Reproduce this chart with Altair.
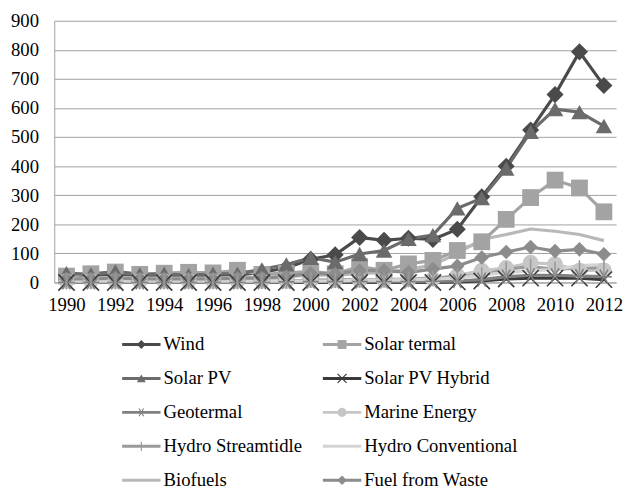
import altair as alt
import pandas as pd

years = list(range(1990, 2013))
series_names = ["Wind", "Solar termal", "Solar PV", "Solar PV Hybrid", "Geotermal",
                "Marine Energy", "Hydro Streamtidle", "Hydro Conventional", "Biofuels",
                "Fuel from Waste"]

wind = [22, 22, 30, 22, 20, 20, 22, 25, 35, 50, 80, 95, 155, 145, 152, 148, 183, 295, 400, 524, 646, 793, 677]
solar_termal = [22, 30, 36, 28, 32, 35, 33, 42, 28, 32, 38, 30, 55, 42, 64, 76, 110, 140, 217, 292, 352, 325, 243]
solar_pv = [32, 28, 38, 28, 30, 25, 30, 30, 45, 62, 85, 70, 98, 110, 150, 163, 255, 290, 392, 518, 596, 586, 538]
solar_pv_hybrid = [0, 0, 0, 0, 0, 0, 0, 0, 0, 0, 0, 0, 0, 0, 0, 0, 2, 5, 12, 15, 15, 15, 10]
geotermal = [0, 0, 0, 0, 0, 0, 0, 0, 0, 2, 3, 3, 3, 3, 3, 4, 5, 10, 20, 25, 25, 22, 20]
marine = [5, 5, 5, 5, 5, 5, 5, 5, 5, 5, 8, 8, 8, 8, 10, 12, 24, 41, 50, 68, 63, 41, 42]
hydro_stream = [3, 3, 3, 3, 3, 3, 3, 3, 5, 5, 8, 8, 10, 10, 12, 15, 20, 25, 45, 55, 45, 50, 50]
hydro_conv = [5, 5, 5, 5, 5, 5, 5, 5, 5, 5, 5, 5, 8, 8, 10, 12, 15, 25, 35, 40, 45, 58, 62]
biofuels = [15, 15, 18, 15, 15, 15, 15, 18, 18, 20, 25, 25, 30, 35, 45, 60, 100, 148, 165, 184, 176, 165, 144]
fuel_waste = [12, 12, 15, 12, 12, 12, 12, 15, 15, 20, 32, 29, 41, 41, 35, 46, 57, 86, 105, 122, 108, 114, 97]

series_values = [wind, solar_termal, solar_pv, solar_pv_hybrid, geotermal, marine,
                 hydro_stream, hydro_conv, biofuels, fuel_waste]

colors = ["#4a4a4a", "#a3a3a3", "#6b6b6b", "#3a3a3a", "#808080",
          "#c6c6c6", "#9a9a9a", "#d4d4d4", "#b8b8b8", "#8c8c8c"]

X_PATH = "M-1,-1L1,1M-1,1L1,-1"
AST_PATH = "M-1,0L1,0M-0.5,-0.87L0.5,0.87M-0.5,0.87L0.5,-0.87"
PLUS_PATH = "M0,-1L0,1"
shapes = ["diamond", "square", "triangle-up", X_PATH, AST_PATH,
          "circle", PLUS_PATH, "circle", "circle", "diamond"]
marker_sizes = [300, 220, 250, 150, 150, 200, 150, 10, 10, 210]
legend_marker_sizes = [80, 90, 100, 90, 90, 80, 90, 10, 10, 70]
marker_kind = ["fill", "fill", "fill", "stroke", "stroke", "fill", "stroke", "none", "none", "fill"]
legend_col = [0, 1, 0, 1, 0, 1, 0, 1, 0, 1]
legend_row = [0, 0, 1, 1, 2, 2, 3, 3, 4, 4]
y_ticks = list(range(0, 901, 100))
x_ticks = list(range(1990, 2013, 2))

rows = []
for i, name in enumerate(series_names):
    for y, v in zip(years, series_values[i]):
        rows.append({"year": y, "series": name, "value": v, "order": i, "kind": marker_kind[i]})
df = pd.DataFrame(rows)

leg = pd.DataFrame({"series": series_names, "col": legend_col, "row": legend_row,
                    "kind": marker_kind, "order": list(range(10))})

FONT = "'Liberation Serif', 'Times New Roman', 'DejaVu Serif', serif"
FS = 19
color_scale = alt.Scale(domain=series_names, range=colors)
shape_scale = alt.Scale(domain=series_names, range=shapes)
col_enc = alt.Color("series:N", scale=color_scale, legend=None)
shape_enc = alt.Shape("series:N", scale=shape_scale, legend=None)
size_enc = alt.Size("series:N", scale=alt.Scale(domain=series_names, range=marker_sizes), legend=None)
lsize_enc = alt.Size("series:N", scale=alt.Scale(domain=series_names, range=legend_marker_sizes), legend=None)

W, H = 571, 266

x_enc = alt.X("year:Q", scale=alt.Scale(domain=[1989.5, 2012.5], nice=False, zero=False),
              axis=alt.Axis(values=x_ticks, format="d", title=None,
                            grid=False, ticks=False, tickSize=0, labelPadding=13,
                            labelFont=FONT, labelFontSize=FS, labelColor="#000",
                            domainColor="#a0a0a0", labelFlush=False, labelOverlap=False))
y_enc = alt.Y("value:Q", scale=alt.Scale(domain=[0, 900], nice=False),
              axis=alt.Axis(values=y_ticks, title=None, ticks=False,
                            tickSize=0, labelPadding=16, labelFont=FONT, labelFontSize=FS,
                            labelColor="#000", gridColor="#a0a0a0", gridWidth=1,
                            domainColor="#a0a0a0", labelOverlap=False, labelFlush=False))

base = alt.Chart(df)
lines = base.mark_line(strokeWidth=3.2).encode(
    x=x_enc, y=y_enc, color=col_enc, detail="series:N", order=alt.Order("year:Q"),
)
filled = base.transform_filter(alt.datum.kind == "fill").mark_point(
    filled=True, opacity=1).encode(x=x_enc, y=y_enc, color=col_enc, shape=shape_enc, size=size_enc)
stroked = base.transform_filter(alt.datum.kind == "stroke").mark_point(
    filled=False, strokeWidth=1.6, opacity=1).encode(
    x=x_enc, y=y_enc, color=col_enc, shape=shape_enc, size=size_enc)
main = alt.layer(lines, filled, stroked).properties(width=W, height=H)

lx = alt.X("col:Q", scale=alt.Scale(domain=[0, 1], range=[69, 273]), axis=None)
ly = alt.Y("row:Q", scale=alt.Scale(domain=[0, 4], range=[31, 169]), axis=None)
lbase = alt.Chart(leg)
lrule = lbase.mark_rule(strokeWidth=3, x2Offset=39).encode(
    x=lx, x2="col:Q", y=ly, color=col_enc)
lfill = lbase.transform_filter(alt.datum.kind == "fill").mark_point(
    filled=True, opacity=1, xOffset=19.5).encode(
    x=lx, y=ly, color=col_enc, shape=shape_enc, size=lsize_enc)
lstroke = lbase.transform_filter(alt.datum.kind == "stroke").mark_point(
    filled=False, strokeWidth=1.2, opacity=1, xOffset=19.5).encode(
    x=lx, y=ly, color=col_enc, shape=shape_enc, size=lsize_enc)
ltext = lbase.mark_text(align="left", baseline="middle", dx=42, font=FONT,
                        fontSize=FS, color="#000").encode(x=lx, y=ly, text="series:N")
legend = alt.layer(lrule, lfill, lstroke, ltext).properties(width=W, height=174)

chart = alt.vconcat(main, legend, spacing=0).resolve_scale(size="independent").properties(
    padding={"left": 2, "top": 0, "right": 0, "bottom": 0}
).configure_view(stroke=None).configure_concat(spacing=0)

chart.save("out.html", embed_options={"renderer": "svg", "actions": False})
